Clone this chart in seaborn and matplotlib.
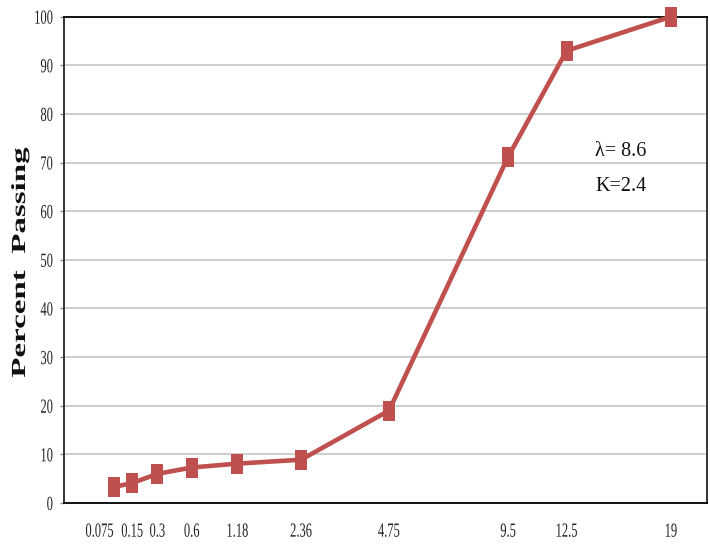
import numpy as np
import pandas as pd
import matplotlib
matplotlib.use("Agg")
import matplotlib.pyplot as plt
import seaborn as sns
from matplotlib.path import Path
from matplotlib.patheffects import AbstractPathEffect
from matplotlib.transforms import Affine2D

# Sieve sizes (mm) and cumulative percent passing
sieve_sizes = [0.075, 0.15, 0.3, 0.6, 1.18, 2.36, 4.75, 9.5, 12.5, 19]
percent_passing = [3.3, 4.1, 6.0, 7.3, 8.1, 8.9, 19.0, 71.2, 93.0, 100.0]
sieve_labels = ["0.075", "0.15", "0.3", "0.6", "1.18", "2.36", "4.75", "9.5", "12.5", "19"]
y_ticks = [0, 10, 20, 30, 40, 50, 60, 70, 80, 90, 100]
params = ["λ= 8.6", "K=2.4"]

POWER = 0.45
LINE_RED = "#c0504d"
SERIF = ["Liberation Serif", "DejaVu Serif"]


class Stretch(AbstractPathEffect):
    """Scale glyph outlines about their own centre (tall, narrow lettering)."""

    def __init__(self, sx=1.0, sy=1.0):
        super().__init__()
        self.sx, self.sy = sx, sy

    def draw_path(self, renderer, gc, tpath, affine, rgbFace=None):
        ext = tpath.get_extents()
        cx, cy = ext.x0 + ext.width / 2, ext.y0 + ext.height / 2
        t = (Affine2D().translate(-cx, -cy).scale(self.sx, self.sy)
             .translate(cx, cy) + affine)
        renderer.draw_path(gc, tpath, t, rgbFace)


def fwd(x):
    return np.power(np.clip(x, 0, None), POWER)


def inv(x):
    return np.power(np.clip(x, 0, None), 1.0 / POWER)


sns.set_theme(style="white")
plt.rcParams["font.family"] = SERIF

df = pd.DataFrame({"size": sieve_sizes, "passing": percent_passing})

W, H = 710, 544
fig = plt.figure(figsize=(W / 100, H / 100), dpi=100)
fig.patch.set_facecolor("white")
left, right, top, bottom = 63.5, 707, 16.7, 503
ax = fig.add_axes([left / W, 1 - bottom / H, (right - left) / W, (bottom - top) / H])
ax.set_facecolor("white")

# tall rectangular marker
rect = Path([(-0.6, -1), (0.6, -1), (0.6, 1), (-0.6, 1), (-0.6, -1)],
            [Path.MOVETO, Path.LINETO, Path.LINETO, Path.LINETO, Path.CLOSEPOLY])

sns.lineplot(data=df, x="size", y="passing", ax=ax, color=LINE_RED,
             linewidth=3.3, marker=rect, markersize=14.6,
             markerfacecolor=LINE_RED, markeredgewidth=0, zorder=3,
             clip_on=False)

ax.set_xscale("function", functions=(fwd, inv))
ax.set_xlim(0, 21.6)
ax.set_ylim(0, 100)

ax.set_xticks(sieve_sizes)
ax.set_xticklabels(sieve_labels)
ax.set_yticks(y_ticks)
ax.set_yticklabels([str(v) for v in y_ticks])

ax.grid(axis="y", color="#c6c6c6", linewidth=1.2)
ax.grid(axis="x", visible=False)
ax.set_axisbelow(True)

for side in ["top", "bottom"]:
    ax.spines[side].set_color("#111111")
    ax.spines[side].set_linewidth(1.4)
for side in ["left", "right"]:
    ax.spines[side].set_color("#333333")
    ax.spines[side].set_linewidth(1.4)

ax.tick_params(axis="y", direction="out", length=2.6, width=1.0, color="#888888",
               pad=5, labelsize=9, labelcolor="#222222", left=True)
ax.tick_params(axis="x", length=0, pad=16, labelsize=9, labelcolor="#222222")

ax.set_xlabel("")
ax.set_ylabel("")

for t in ax.get_yticklabels():
    t.set_path_effects([Stretch(sy=1.6)])
for i, t in enumerate(ax.get_xticklabels()):
    t.set_path_effects([Stretch(sy=1.6)])
    if i == 0:
        t.set_horizontalalignment("right")

# axis title, drawn in tall bold serif
fig.text(20 / W, 1 - 262.5 / H, "Percent  Passing", rotation=90, ha="center",
         va="center", fontsize=14.4, fontweight="bold", family=SERIF,
         color="#111111", path_effects=[Stretch(sx=1.65)])

# model parameters
ax.text(0.826, 0.722, params[0], transform=ax.transAxes, ha="left", va="center",
        fontsize=14.5, family=SERIF, color="#111111")
ax.text(0.826, 0.650, params[1], transform=ax.transAxes, ha="left", va="center",
        fontsize=14.5, family=SERIF, color="#111111")

fig.savefig("out.png", dpi=100, facecolor="white")
